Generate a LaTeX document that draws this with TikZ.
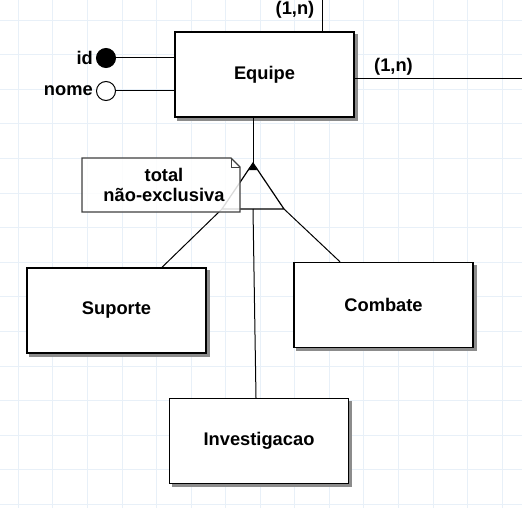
\documentclass[tikz,border=0pt]{standalone}
\usepackage{fontspec}
\setmainfont{Liberation Sans}
\usetikzlibrary{positioning, backgrounds}
\definecolor{gridline}{RGB}{232,240,248}

\begin{document}
\begin{tikzpicture}[x=1pt, y=-1pt,
        er/.style={font=\bfseries\fontsize{18.3}{20}\selectfont},
        entity/.style={er, draw, line width=1.4pt, fill=white, minimum width=179pt, minimum height=85pt, inner sep=0pt},
        attr/.style={circle, draw, line width=1pt, minimum size=19pt, inner sep=0pt},
        conn/.style={line width=1pt}]
        \useasboundingbox (0,0) rectangle (522,508);

        % entities
        \node[entity] (equipe) at (264.5,74.5) {Equipe};
        \node[entity] (suporte) at (116.5,310.5) {Suporte};
        \node[entity] (combate) at (383.5,305) {Combate};
        \node[entity] (investigacao) at (259,441) {Investigacao};

        % grid and shadows
        \begin{scope}[on background layer]
            \foreach \i in {0,...,14} {
                \draw[gridline, line width=0.8pt] (18.3+34.55*\i,0) -- (18.3+34.55*\i,508);
                \draw[gridline, line width=0.8pt] (0,20+34.6*\i) -- (522,20+34.6*\i);
            }
            \foreach \e in {equipe, suporte, combate, investigacao}
                \fill[black!45] ([shift={(3,3)}]\e.south west) rectangle ([shift={(3,3)}]\e.north east);
        \end{scope}

        % attributes
        \node[attr, fill=black] (id) at (106,58) {};
        \node[attr, fill=white] (nome) at (106,91) {};
        \node[er, inner sep=0pt, left=3pt of id] (idlbl) {id};
        \node[er, inner sep=0pt, left=3pt of nome] (nomelbl) {nome};
        \draw[conn] (id) -- (id -| equipe.west);
        \draw[conn] (nome) -- (nome -| equipe.west);

        % relationships
        \coordinate (reltop) at (322,0);
        \coordinate (relright) at (522,79);
        \draw[conn] (reltop |- equipe.north) -- (reltop);
        \draw[conn] (relright -| equipe.east) -- (relright);
        \node[er] (cardtop) at (295,10) {(1,n)};
        \node[er] (cardright) at (393.5,67) {(1,n)};

        % specialization
        \coordinate (apex) at (253,163);
        \coordinate (tl) at (222,209);
        \coordinate (tr) at (284,209);
        \coordinate (tb) at (253,209);
        \draw[conn] (apex |- equipe.south) -- (apex);
        \draw[line width=1.2pt] (apex) -- (tl) -- (tr) -- cycle;
        \fill (apex) -- +(-4,7) -- +(4,7) -- cycle;
        \draw[conn] (tl) -- ([xshift=45.5pt]suporte.north);
        \draw[conn] (tr) -- ([xshift=-43.5pt]combate.north);
        \draw[conn] (tb) -- ([xshift=-3pt]investigacao.north);

        % note
        \path[draw=black!75, line width=1.2pt, fill=white, fill opacity=0.85] (82,158) -- (231,158) -- (240,167) -- (240,212) -- (82,212) -- cycle;
        \draw[black!75, line width=1pt] (231,158) -- (231,167) -- (240,167);
        \node[er, align=center] (note) at (164,185) {total\\não-exclusiva};
\end{tikzpicture}
\end{document}
